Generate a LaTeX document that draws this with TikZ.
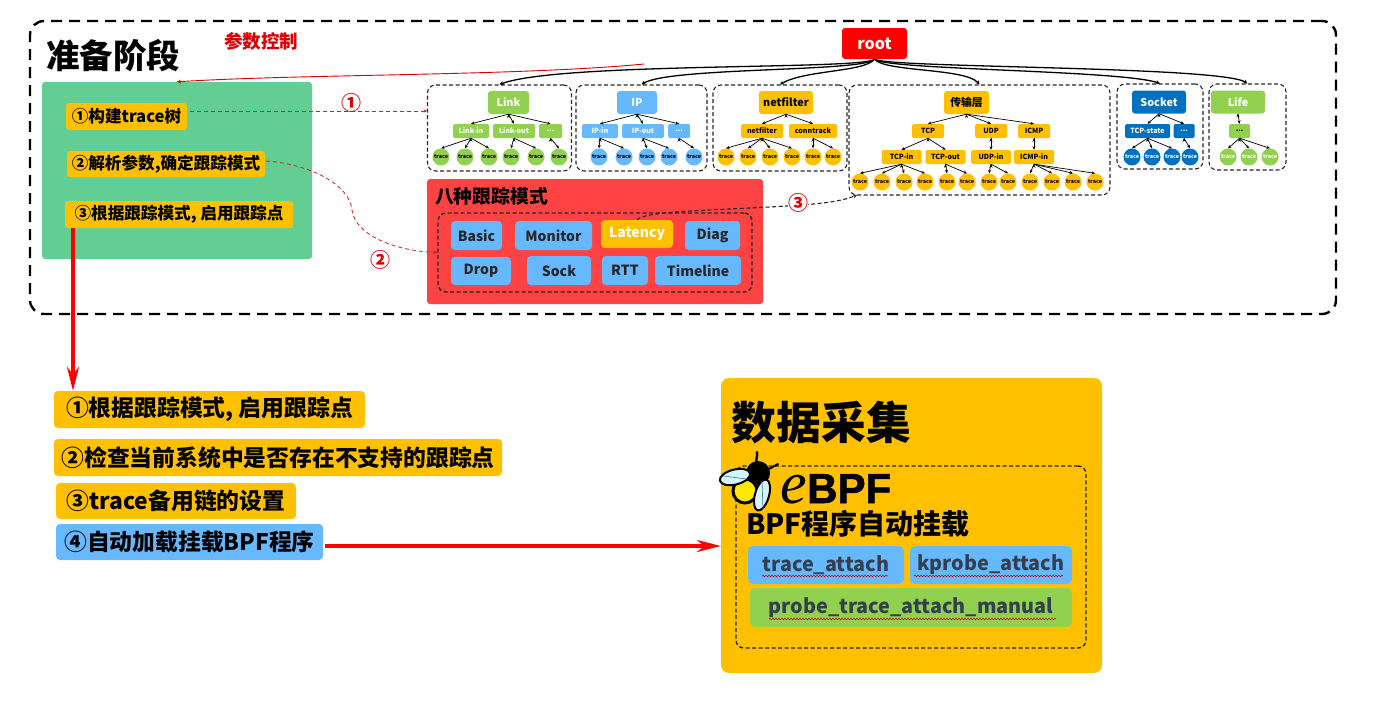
\documentclass[tikz,border=0pt]{standalone}
\usepackage{fontspec}
\setmainfont{Noto Sans CJK SC}
\newfontfamily\logofont{Liberation Sans}[BoldFont={Liberation Sans Bold},BoldFeatures={FakeBold=1.5}]
\newfontfamily\logoefont{Liberation Serif}
\usetikzlibrary{positioning, arrows.meta, decorations.pathmorphing}
\definecolor{treeGreen}{HTML}{92D050}
\definecolor{treeBlue}{HTML}{66B9FF}
\definecolor{treeOrange}{HTML}{FFC000}
\definecolor{treeNavy}{HTML}{0070C0}
\definecolor{rootRed}{HTML}{FF0000}
\definecolor{modeRed}{HTML}{FF4343}
\definecolor{panelGreen}{HTML}{63CE94}
\definecolor{linkRed}{HTML}{D02020}
\definecolor{attachInk}{HTML}{333F50}
\newcommand{\pxfont}[1]{\fontsize{#1}{#1}\selectfont\bfseries}
\tikzset{
  fillbox/.style={rounded corners=3pt, inner sep=0pt, text=black},
  headbox/.style={fillbox, minimum height=23, font=\pxfont{10.8}},
  subbox/.style={fillbox, rounded corners=1.5pt, minimum height=14, font=\pxfont{7.1}},
  leaf/.style={circle, inner sep=0pt, minimum size=17, font=\pxfont{5.4}},
  groupbox/.style={draw=black!85, line width=1.1pt, dash pattern=on 4pt off 2.5pt, rounded corners=8pt, inner sep=0pt},
  stepbox/.style={fillbox, font=\pxfont{16.6}},
  modebox/.style={fillbox, fill=treeBlue, rounded corners=4pt, font=\pxfont{14}, text=black!85},
  listbox/.style={fillbox, rounded corners=4pt, font=\pxfont{22.8}},
  attachbox/.style={fillbox, rounded corners=5pt, font=\pxfont{19.8}, text=attachInk},
  treeedge/.style={draw=black, line width=.7pt, -{Stealth[length=3.5pt,width=3pt]}},
  rootedge/.style={draw=black, line width=1.3pt, -{Stealth[length=4pt,width=4pt]}},
  dashlink/.style={draw=linkRed, line width=1pt, dash pattern=on 4pt off 3pt, -{Stealth[length=3.5pt,width=3.5pt]}},
  bigarrow/.style={draw=rootRed, line width=3.6pt, -{Stealth[length=24pt,width=12pt]}},
  circnum/.style={inner sep=0pt, text=red!85!black, font=\pxfont{20}},
  squiggle/.style={draw=red!80!black, line width=.6pt, decorate, decoration={snake, amplitude=.7pt, segment length=3pt}}
}
\begin{document}
\begin{tikzpicture}[x=1pt, y=-1pt]
  \useasboundingbox (0,0) rectangle (1386,702);
  % preparation stage
  \node[draw=black, line width=2.4pt, dash pattern=on 11pt off 7pt, rounded corners=14pt, minimum width=1306, minimum height=293, inner sep=0pt] (prep) at (683,167.5) {};
  \node[inner sep=0pt, font=\pxfont{33.5}] (preptitle) at (113,56) {准备阶段};
  \node[inner sep=0pt, text=red!85!black, font=\pxfont{18.5}] (paramlabel) at (261,41) {参数控制};
  \node[fillbox, fill=panelGreen, minimum width=270, minimum height=177] (panel) at (177,170.5) {};
  \node[stepbox, fill=treeOrange, minimum width=121, minimum height=27] (buildtree) at (126.5,116.5) {①构建trace树};
  \node[stepbox, fill=treeOrange, minimum width=198, minimum height=26] (parseargs) at (166,164) {②解析参数,确定跟踪模式};
  \node[stepbox, fill=treeOrange, minimum width=228, minimum height=27] (enablepts) at (179,214.5) {③根据跟踪模式, 启用跟踪点};

  % root and the six groups
  \node[fillbox, fill=rootRed, text=white, minimum width=65, minimum height=31, font=\pxfont{16}] (root) at (874.5,43.5) {root};
  \node[groupbox, minimum width=144, minimum height=86] (linkg) at (499.5,128) {};
  \node[groupbox, minimum width=131, minimum height=86] (ipg) at (641.5,128) {};
  \node[groupbox, minimum width=134, minimum height=86] (netg) at (780,128) {};
  \node[groupbox, minimum width=261, minimum height=110] (transg) at (979.5,140) {};
  \node[groupbox, minimum width=86, minimum height=85] (sockg) at (1160,126.5) {};
  \node[groupbox, minimum width=77, minimum height=86] (lifeg) at (1247.5,127) {};
  \draw[rootedge] (root.south) .. controls (865,70) and (560,62) .. (linkg.north);
  \draw[rootedge] (root.south) .. controls (865,72) and (670,67) .. (ipg.north);
  \draw[rootedge] (root.south) .. controls (865,72) and (805,70) .. (netg.north);
  \draw[rootedge] (root.south) .. controls (885,72) and (965,68) .. (transg.north);
  \draw[rootedge] (root.south) .. controls (885,70) and (1120,70) .. (sockg.north);
  \draw[rootedge] (root.south) .. controls (885,68) and (1220,66) .. (lifeg.north);

  % Link
  \node[headbox, fill=treeGreen, text=white, minimum width=41] (linkh) at (508.5,102.5) {Link};
  \node[subbox, fill=treeGreen, text=white, minimum width=36] (linkin) at (471,131) {Link-in};
  \node[subbox, fill=treeGreen, text=white, minimum width=42] (linkout) at (514,131) {Link-out};
  \node[subbox, fill=treeGreen, text=white, minimum width=23] (linkmore) at (550.5,131) {...};
  \node[leaf, fill=treeGreen] (la) at (441,157) {trace};
  \node[leaf, fill=treeGreen] (lb) at (465,157) {trace};
  \node[leaf, fill=treeGreen] (lc) at (489,157) {trace};
  \node[leaf, fill=treeGreen] (ld) at (511,157) {trace};
  \node[leaf, fill=treeGreen] (le) at (536,157) {trace};
  \node[leaf, fill=treeGreen] (lf) at (559,157) {trace};
  \draw[treeedge] (linkh.south) edge (linkin.north) edge (linkout.north) edge (linkmore.north);
  \draw[treeedge] (linkin.south) edge (la.north) edge (lb.north) edge (lc.north);
  \draw[treeedge] (linkout.south) edge (ld.north) edge (le.north);
  \draw[treeedge] (linkmore.south) edge (lf.north);

  % IP
  \node[headbox, fill=treeBlue, text=white, minimum width=40] (iph) at (637,102.5) {IP};
  \node[subbox, fill=treeBlue, text=white, minimum width=36] (ipin) at (600,131) {IP-in};
  \node[subbox, fill=treeBlue, text=white, minimum width=42] (ipout) at (643,131) {IP-out};
  \node[subbox, fill=treeBlue, text=white, minimum width=22] (ipmore) at (679,131) {...};
  \node[leaf, fill=treeBlue] (ia) at (599,157) {trace};
  \node[leaf, fill=treeBlue] (ib) at (624,157) {trace};
  \node[leaf, fill=treeBlue] (ic) at (647,157) {trace};
  \node[leaf, fill=treeBlue] (id) at (669,157) {trace};
  \node[leaf, fill=treeBlue] (ie) at (694,157) {trace};
  \draw[treeedge] (iph.south) edge (ipin.north) edge (ipout.north) edge (ipmore.north);
  \draw[treeedge] (ipin.south) edge (ia.north) edge (ib.north);
  \draw[treeedge] (ipout.south) edge (ic.north) edge (id.north);
  \draw[treeedge] (ipmore.south) edge (ie.north);

  % netfilter
  \node[headbox, fill=treeOrange, minimum width=54] (neth) at (786,102.5) {netfilter};
  \node[subbox, fill=treeOrange, minimum width=42] (netsub) at (762,131) {netfilter};
  \node[subbox, fill=treeOrange, minimum width=48] (ctsub) at (813,131) {conntrack};
  \node[leaf, fill=treeOrange] (na) at (726,157) {trace};
  \node[leaf, fill=treeOrange] (nb) at (748,157) {trace};
  \node[leaf, fill=treeOrange] (nc) at (770,157) {trace};
  \node[leaf, fill=treeOrange] (nd) at (792,157) {trace};
  \node[leaf, fill=treeOrange] (ne) at (813,157) {trace};
  \node[leaf, fill=treeOrange] (nf) at (833,157) {trace};
  \draw[treeedge] (neth.south) edge (netsub.north) edge (ctsub.north);
  \draw[treeedge] (netsub.south) edge (na.north) edge (nb.north) edge (nc.north) edge (nd.north);
  \draw[treeedge] (ctsub.south) edge (ne.north) edge (nf.north);

  % transport layer
  \node[headbox, fill=treeOrange, minimum width=45] (transh) at (966.5,102.5) {传输层};
  \node[subbox, fill=treeOrange, minimum width=32] (tcp) at (928,131) {TCP};
  \node[subbox, fill=treeOrange, minimum width=32] (udp) at (991,131) {UDP};
  \node[subbox, fill=treeOrange, minimum width=32] (icmp) at (1034,131) {ICMP};
  \node[subbox, fill=treeOrange, minimum width=40] (tcpin) at (901.5,157) {TCP-in};
  \node[subbox, fill=treeOrange, minimum width=40] (tcpout) at (945.5,157) {TCP-out};
  \node[subbox, fill=treeOrange, minimum width=40] (udpin) at (991,157) {UDP-in};
  \node[subbox, fill=treeOrange, minimum width=40] (icmpin) at (1034,157) {ICMP-in};
  \node[leaf, fill=treeOrange] (ta) at (860,182) {trace};
  \node[leaf, fill=treeOrange] (tb) at (882,182) {trace};
  \node[leaf, fill=treeOrange] (tc) at (904,182) {trace};
  \node[leaf, fill=treeOrange] (td) at (925,182) {trace};
  \node[leaf, fill=treeOrange] (te) at (947,182) {trace};
  \node[leaf, fill=treeOrange] (tf) at (967,182) {trace};
  \node[leaf, fill=treeOrange] (tg) at (989,182) {trace};
  \node[leaf, fill=treeOrange] (th) at (1008,182) {trace};
  \node[leaf, fill=treeOrange] (ti) at (1030,182) {trace};
  \node[leaf, fill=treeOrange] (tj) at (1052,182) {trace};
  \node[leaf, fill=treeOrange] (tk) at (1073,182) {trace};
  \node[leaf, fill=treeOrange] (tl) at (1095,182) {trace};
  \draw[treeedge] (transh.south) edge (tcp.north) edge (udp.north) edge (icmp.north);
  \draw[treeedge] (tcp.south) edge (tcpin.north) edge (tcpout.north);
  \draw[treeedge] (udp.south) edge (udpin.north);
  \draw[treeedge] (icmp.south) edge (icmpin.north);
  \draw[treeedge] (tcpin.south) edge (ta.north) edge (tb.north) edge (tc.north) edge (td.north);
  \draw[treeedge] (tcpout.south) edge (te.north) edge (tf.north);
  \draw[treeedge] (udpin.south) edge (tg.north) edge (th.north);
  \draw[treeedge] (icmpin.south) edge (ti.north) edge (tj.north) edge (tk.north) edge (tl.north);

  % Socket
  \node[headbox, fill=treeNavy, text=white, minimum width=54] (sockh) at (1159,102) {Socket};
  \node[subbox, fill=treeNavy, text=white, minimum width=45] (tcpstate) at (1147.5,131) {TCP-state};
  \node[subbox, fill=treeNavy, text=white, minimum width=21] (sockmore) at (1184,131) {...};
  \node[leaf, fill=treeNavy, text=white] (sa) at (1132,157) {trace};
  \node[leaf, fill=treeNavy, text=white] (sb) at (1152,157) {trace};
  \node[leaf, fill=treeNavy, text=white] (sc) at (1172,157) {trace};
  \node[leaf, fill=treeNavy, text=white] (sd) at (1190,157) {trace};
  \draw[treeedge] (sockh.south) edge (tcpstate.north) edge (sockmore.north);
  \draw[treeedge] (tcpstate.south) edge (sa.north) edge (sb.north) edge (sc.north);
  \draw[treeedge] (sockmore.south) edge (sd.north);

  % Life
  \node[headbox, fill=treeGreen, text=white, minimum width=54] (lifeh) at (1238,102) {Life};
  \node[subbox, fill=treeGreen, minimum width=21] (lifemore) at (1239.5,131) {...};
  \node[leaf, fill=treeGreen, text=white] (fa) at (1228,157) {trace};
  \node[leaf, fill=treeGreen, text=white] (fb) at (1249,157) {trace};
  \node[leaf, fill=treeGreen, text=white] (fc) at (1270,157) {trace};
  \draw[treeedge] (lifeh.south) edge (lifemore.north);
  \draw[treeedge] (lifemore.south) edge (fa.north) edge (fb.north) edge (fc.north);

  % eight tracing modes
  \node[fillbox, fill=modeRed, minimum width=336, minimum height=125] (modes) at (595,241.5) {};
  \node[inner sep=0pt, font=\pxfont{18.8}] (modestitle) at (491.5,196) {八种跟踪模式};
  \node[groupbox, line width=1.4pt, minimum width=314, minimum height=79] (modeg) at (595,252.5) {};
  \node[modebox, minimum width=51, minimum height=29] (basic) at (476.5,235.5) {Basic};
  \node[modebox, minimum width=77, minimum height=29] (monitor) at (553.5,235.5) {Monitor};
  \node[modebox, fill=treeOrange, text=white, minimum width=72, minimum height=28] (latency) at (637,234) {Latency};
  \node[modebox, minimum width=55, minimum height=29] (diag) at (712.5,235.5) {Diag};
  \node[modebox, minimum width=60, minimum height=28] (drop) at (481,271) {Drop};
  \node[modebox, minimum width=64, minimum height=29] (sock) at (559,270.5) {Sock};
  \node[modebox, minimum width=46, minimum height=29] (rtt) at (625,270.5) {RTT};
  \node[modebox, minimum width=86, minimum height=29] (timeline) at (698,270.5) {Timeline};

  % links from the panel to the trees and modes
  \coordinate (buildout) at (190,111);
  \coordinate (parseout) at (266,161);
  \coordinate (paramout) at (644,64);
  \coordinate (transin) at (857,195);
  \draw[draw=red!85!black, line width=.9pt, -{Stealth[length=4pt,width=4pt]}] (paramout) .. controls (520,76) and (300,74) .. (panel.north);
  \draw[dashlink] (buildout) -- (buildout -| linkg.west);
  \draw[dashlink, line width=.8pt] (parseout) .. controls (310,164) and (350,185) .. (352,210) .. controls (355,235) and (395,251) .. (modeg.west);
  \draw[groupbox, line width=1.1pt, rounded corners=0pt, -{Stealth[length=4pt,width=4pt]}] (latency.north) .. controls (645,212) and (690,211) .. (770,207) .. controls (800,205) and (835,204) .. (transin);
  \node[circnum] (numa) at (351,103) {①};
  \node[circnum] (numb) at (380,260) {②};
  \node[circnum, fill=white] (numc) at (798,203) {③};

  % steps below the frame
  \node[listbox, fill=treeOrange, minimum width=311, minimum height=37] (stepa) at (209.5,409.5) {①根据跟踪模式, 启用跟踪点};
  \node[listbox, fill=treeOrange, minimum width=448, minimum height=37] (stepb) at (278,457.5) {②检查当前系统中是否存在不支持的跟踪点};
  \node[listbox, fill=treeOrange, minimum width=240, minimum height=36] (stepc) at (176,501) {③trace备用链的设置};
  \node[listbox, fill=treeBlue, minimum width=267, minimum height=36] (stepd) at (189.5,542) {④自动加载挂载BPF程序};

  % data collection
  \node[fillbox, fill=treeOrange, rounded corners=8pt, minimum width=381, minimum height=295] (data) at (911.5,525.5) {};
  \node[inner sep=0pt, font=\pxfont{44.8}] (datatitle) at (821.5,422) {数据采集};
  \node[groupbox, line width=1.4pt, minimum width=350, minimum height=182] (datag) at (911,557) {};
  \node[inner sep=0pt, anchor=base west, font=\logoefont\itshape\fontsize{60}{60}\selectfont] (logoe) at (780,503) {e};
  \node[inner sep=0pt, anchor=base west, font=\logofont\bfseries\fontsize{42}{42}\selectfont] (logobpf) at (807,503) {BPF};
  \node[inner sep=0pt, font=\pxfont{28}, text height=22, text depth=3] (autotitle) at (858,525) {BPF程序自动挂载};
  \node[attachbox, fill=treeBlue, minimum width=156, minimum height=38] (traceatt) at (826,565) {trace\_attach};
  \node[attachbox, fill=treeBlue, minimum width=162, minimum height=38] (kprobeatt) at (991,565) {kprobe\_attach};
  \node[attachbox, fill=treeGreen, minimum width=322, minimum height=39] (manualatt) at (911,607.5) {probe\_trace\_attach\_manual};
  \draw[squiggle] (762,576) -- (888,576);
  \draw[squiggle] (914,576) -- (1063,576);
  \draw[squiggle] (769,619) -- (1056,619);

  % bee
  \draw[line width=2.4pt, line cap=round] (757,464) .. controls (755,460) and (758,456) .. (757,452);
  \draw[line width=2pt, line cap=round] (764,470) .. controls (770,470) and (773,466) .. (778,464);
  \draw[fill=yellow!90!orange, line width=3pt] (745,491) circle [radius=12];
  \fill[black] (758,473) circle [radius=12];
  \draw[fill=cyan!15, line width=2pt, rotate around={14:(735,477)}] (735,477) ellipse [x radius=15.5, y radius=7.5];
  \draw[fill=cyan!15, line width=2pt, rotate around={-16:(762,495)}] (762,495) ellipse [x radius=7, y radius=16];
  \draw[cyan!60!black, line width=.7pt] (724,476) -- (746,479) (762,481) -- (763,509);

  % big arrows
  \coordinate (enableout) at (73,228);
  \coordinate (stepout) at (325,546);
  \draw[bigarrow] (enableout) -- (enableout |- stepa.north);
  \draw[bigarrow] (stepout) -- (stepout -| data.west);
\end{tikzpicture}
\end{document}
